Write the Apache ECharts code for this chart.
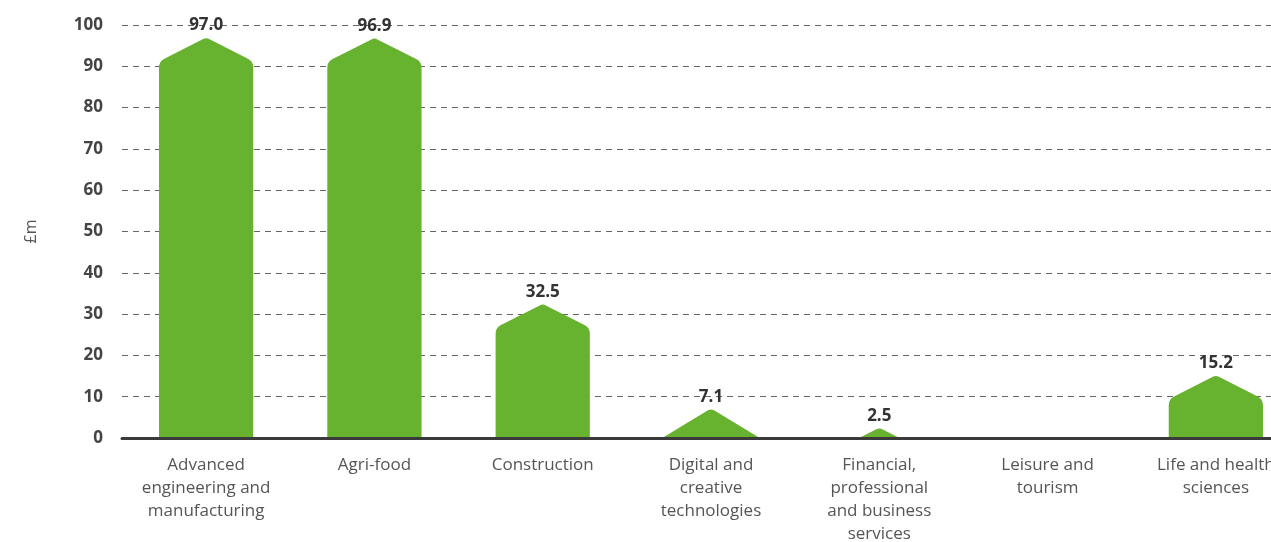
<!DOCTYPE html>
<html><head><meta charset="utf-8">
<script src="https://cdn.jsdelivr.net/npm/echarts@6/dist/echarts.min.js"></script>
<style>html,body{margin:0;padding:0;background:#fff}#c{width:1271px;height:542px}</style>
</head><body><div id="c"></div>
<script>
const categories = ["Advanced\nengineering and\nmanufacturing", "Agri-food", "Construction", "Digital and\ncreative\ntechnologies", "Financial,\nprofessional\nand business\nservices", "Leisure and\ntourism", "Life and health\nsciences"];
const values = [97.0, 96.9, 32.5, 7.1, 2.5, 0, 15.2];
const yTicks = [0, 10, 20, 30, 40, 50, 60, 70, 80, 90, 100];

const chart = echarts.init(document.getElementById('c'));
const GREEN = '#67b22f';
function renderItem(params, api) {
  const v = api.value(1);
  const idx = api.value(0);
  const base = api.coord([idx, 0]);
  const top = api.coord([idx, v]);
  const band = api.size([1, 0])[0];
  const w = band * 0.28;
  const rise = 24;
  const r = 6;
  const x = base[0], by = base[1] - 1, ty = top[1];
  const h = by - ty;
  const children = [];
  if (v > 0) {
    let path;
    if (h > rise + r + 2) {
      const sy = ty + rise;
      const dx = r * w / Math.hypot(w, rise), dy = r * rise / Math.hypot(w, rise);
      path = `M${x - w} ${by} L${x - w} ${sy + r} Q${x - w} ${sy} ${x - w + dx} ${sy - dy} ` +
             `L${x - 3} ${ty + 1.6} Q${x} ${ty} ${x + 3} ${ty + 1.6} ` +
             `L${x + w - dx} ${sy - dy} Q${x + w} ${sy} ${x + w} ${sy + r} L${x + w} ${by} Z`;
    } else {
      const hw = Math.min(w, w * h / rise);
      path = `M${x - hw} ${by} L${x - 3} ${ty + 1.6} Q${x} ${ty} ${x + 3} ${ty + 1.6} L${x + hw} ${by} Z`;
    }
    children.push({ type: 'path', shape: { pathData: path }, style: { fill: GREEN } });
    children.push({ type: 'text', x: x, y: ty - 12, style: { text: v.toFixed(1), fill: '#333', font: 'bold 17px "Open Sans", sans-serif', align: 'center', verticalAlign: 'middle' } });
  }
  return { type: 'group', children: children };
}

chart.setOption({
  animation: false,
  grid: { left: 122, right: -29, top: 25, bottom: 104, containLabel: false, outerBoundsMode: 'none' },
  xAxis: {
    type: 'category', data: categories,
    axisLine: { lineStyle: { color: '#3a3a3a', width: 3 } },
    axisTick: { show: false },
    axisLabel: { interval: 0, color: '#555', fontSize: 17, fontFamily: 'Open Sans', lineHeight: 23, margin: 16, verticalAlign: 'top' }
  },
  yAxis: {
    type: 'value', min: 0, max: 100, interval: 10,
    name: '£m', nameLocation: 'middle', nameGap: 83, nameRotate: 90,
    nameTextStyle: { color: '#555', fontSize: 16, fontFamily: 'Open Sans' },
    axisLine: { show: false }, axisTick: { show: false },
    axisLabel: { color: '#444', fontSize: 17, fontWeight: 'bold', fontFamily: 'Open Sans', margin: 19 },
    splitLine: { lineStyle: { color: '#666', type: [6, 5], width: 1 } }
  },
  series: [{
    type: 'custom', renderItem: renderItem,
    data: values.map((v, i) => [i, v]),
    encode: { x: 0, y: 1 }, z: 3
  }]
});
</script></body></html>
